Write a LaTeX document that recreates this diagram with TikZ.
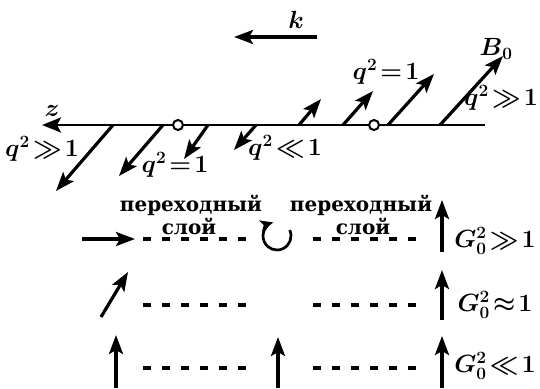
\documentclass[tikz,border=0pt]{standalone}
\usepackage{amsmath}
\usepackage[no-math]{fontspec}
\setmainfont{DejaVu Serif}
\newfontfamily\rus{DejaVu Serif}
\newcommand\mytight{\thickmuskip=2mu\relax}
\usetikzlibrary{arrows.meta}
\begin{document}
\begin{tikzpicture}[x=1pt,y=-1pt,
  vec/.style={line width=3.2pt,-{Stealth[length=19pt,width=14pt,inset=4pt]}},
  axisline/.style={line width=2.6pt},
  dashline/.style={line width=3.2pt,dash pattern=on 8pt off 11pt},
  ring/.style={circle,draw,line width=2pt,fill=white,inner sep=0pt,minimum size=10pt},
  mlab/.style={inner sep=0pt,font={\fontsize{26}{28}\selectfont\boldmath\mytight}},
  rlab/.style={inner sep=0pt,font={\fontsize{20}{21}\selectfont\rus\bfseries}}]
\useasboundingbox (0,0) rectangle (540,388);
% k arrow
\coordinate (k1) at (317,37);
\coordinate (k2) at (234,37);
\draw[vec] (k1) -- (k2);
\node[mlab] (klab) at (296,20) {$\boldsymbol{k}$};
% z axis
\coordinate (zr) at (485,125);
\coordinate (zl) at (42,125);
\draw[axisline,-{Stealth[length=19pt,width=15pt,inset=4pt]}] (zr) -- (zl);
\node[mlab] (zlab) at (52,111) {$z$};
% lower-left field vectors
\coordinate (a1) at (113,125); \coordinate (b1) at (56,191);
\coordinate (a2) at (163,125); \coordinate (b2) at (119,176);
\coordinate (a3) at (208,125); \coordinate (b3) at (184,159);
\coordinate (a4) at (256,125); \coordinate (b4) at (234,150);
\draw[vec] (a1) -- (b1);
\draw[vec] (a2) -- (b2);
\draw[vec] (a3) -- (b3);
\draw[vec] (a4) -- (b4);
% upper-right field vectors
\coordinate (c1) at (299,125); \coordinate (d1) at (321,99);
\coordinate (c2) at (343,125); \coordinate (d2) at (373,91);
\coordinate (c3) at (388,125); \coordinate (d3) at (434,74);
\coordinate (c4) at (440,125); \coordinate (d4) at (503,56);
\draw[vec] (c1) -- (d1);
\draw[vec] (c2) -- (d2);
\draw[vec] (c3) -- (d3);
\draw[vec] (c4) -- (d4);
% resonance points
\node[ring] (p1) at (178,125) {};
\node[ring] (p2) at (374,125) {};
% labels
\node[mlab] (B0) at (496,49) {$\boldsymbol{B}_0$};
\node[mlab] (qa) at (42,149) {$q^2\gg1$};
\node[mlab] (qb) at (175,165) {$q^2=1$};
\node[mlab] (qc) at (285,148) {$q^2\ll1$};
\node[mlab] (qd) at (386,72) {$q^2=1$};
\node[mlab] (qe) at (501,98) {$q^2\gg1$};
% transition layers text
\node[rlab] (t1) at (191,205) {переходный};
\node[rlab] (s1) at (189,226) {слой};
\node[rlab] (t2) at (361,205) {переходный};
\node[rlab] (s2) at (363,226) {слой};
% dashed layers
\foreach \y/\n in {239/1,305/2,368/3}{
  \coordinate (L\n a) at (143,\y); \coordinate (L\n b) at (247,\y);
  \coordinate (R\n a) at (313,\y); \coordinate (R\n b) at (417,\y);
  \draw[dashline] (L\n a) -- (L\n b);
  \draw[dashline] (R\n a) -- (R\n b);
}
% row 1
\coordinate (h1) at (82,239); \coordinate (h2) at (135,239);
\draw[vec] (h1) -- (h2);
\coordinate (cc) at (277,236);
\draw[line width=2.7pt,-{Stealth[length=13pt,width=11pt,inset=3pt]}] (cc) ++(25:14pt) arc[start angle=25,end angle=-255,radius=14pt];
% row 2
\coordinate (g1) at (101,317); \coordinate (g2) at (128,272);
\draw[vec] (g1) -- (g2);
% row 3
\coordinate (u1) at (116,388); \coordinate (u2) at (116,335);
\draw[vec] (u1) -- (u2);
\coordinate (m1) at (278,388); \coordinate (m2) at (278,337);
\draw[vec] (m1) -- (m2);
% right column
\coordinate (r1a) at (442,252); \coordinate (r1b) at (442,200);
\coordinate (r2a) at (442,320); \coordinate (r2b) at (442,270);
\coordinate (r3a) at (442,388); \coordinate (r3b) at (442,336);
\draw[vec] (r1a) -- (r1b);
\draw[vec] (r2a) -- (r2b);
\draw[vec] (r3a) -- (r3b);
\node[mlab] (G1) at (495,241) {$G_0^2\gg1$};
\node[mlab] (G2) at (495,305) {$G_0^2\approx1$};
\node[mlab] (G3) at (495,366) {$G_0^2\ll1$};
\end{tikzpicture}
\end{document}
